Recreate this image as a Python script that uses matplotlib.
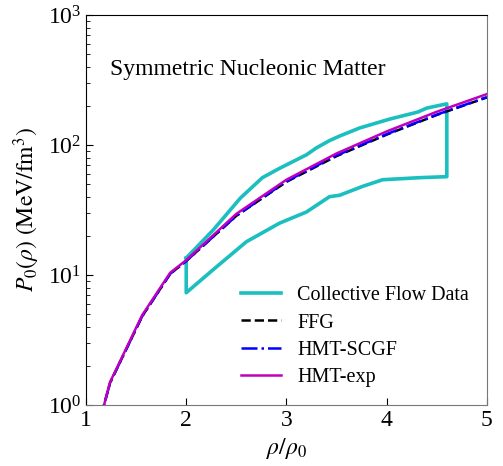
import matplotlib
matplotlib.use("Agg")
import matplotlib.pyplot as plt

plt.rcParams['font.family'] = ['Liberation Serif', 'DejaVu Serif']
plt.rcParams['mathtext.fontset'] = 'stix'

# Collective flow data band (closed contour)
flow_upper_rho = [2.0, 2.27, 2.54, 2.76, 2.93, 3.2, 3.3, 3.43, 3.53, 3.73, 4.03, 4.31, 4.4, 4.6]
flow_upper_P = [13.5, 22.2, 39, 56, 66, 84, 95, 108, 117, 135, 158, 179, 192, 207]
flow_lower_rho = [4.6, 4.33, 3.96, 3.76, 3.53, 3.43, 3.2, 2.93, 2.6, 2.27, 2.0]
flow_lower_P = [57, 56, 54, 48, 41, 40, 30.5, 25, 18, 11, 7.3]

# Model curves
rho = [1.1, 1.18, 1.24, 1.56, 1.84, 2.0, 2.5, 3.0, 3.5, 4.0, 4.5, 5.0]
P_ffg = [0.7, 1.0, 1.48, 4.8, 10.2, 12.8, 28.5, 52, 82, 120, 170, 232]
P_scgf = [0.7, 1.0, 1.48, 4.8, 10.2, 12.8, 28.5, 52.5, 83, 121, 171, 233]
P_exp = [0.7, 1.0, 1.5, 4.9, 10.4, 13.0, 29.5, 54, 86, 127, 180, 246]

fig = plt.figure(figsize=(5.03, 4.66), dpi=100)
ax = fig.add_axes([0.171, 0.131, 0.797, 0.837])

flow_rho = flow_upper_rho + flow_lower_rho + [flow_upper_rho[0]]
flow_P = flow_upper_P + flow_lower_P + [flow_upper_P[0]]
ax.plot(flow_rho, flow_P, color='#1cbfbf', lw=2.6, label='Collective Flow Data')
ax.plot(rho, P_ffg, 'k--', lw=1.8, label='FFG')
ax.plot(rho, P_scgf, color='b', ls='-.', lw=1.8, label='HMT-SCGF')
ax.plot(rho, P_exp, color='m', ls='-', lw=1.8, label='HMT-exp')

ax.set_yscale('log')
ax.set_xlim(1, 5)
ax.set_ylim(1, 1000)
ax.set_xticks([1, 2, 3, 4, 5])
ax.tick_params(axis='both', which='both', direction='in', labelsize=17)
ax.tick_params(which='major', length=5)
ax.tick_params(which='minor', length=3)
for s in ax.spines.values():
    s.set_color('#777777')
ax.spines['left'].set_color('black')
ax.spines['top'].set_color('black')

ax.set_xlabel(r'$\rho/\rho_0$', fontsize=17)
ax.set_ylabel(r'$P_0(\rho)\ (\mathrm{MeV/fm^3})$', fontsize=17)
ax.text(0.06, 0.86, 'Symmetric Nucleonic Matter', transform=ax.transAxes,
        fontsize=17, va='center', ha='left')
ax.legend(loc='lower right', frameon=False, fontsize=14.5, handlelength=2.0,
          labelspacing=0.4, bbox_to_anchor=(1.0, 0.0))

fig.savefig('out.png', dpi=100)
